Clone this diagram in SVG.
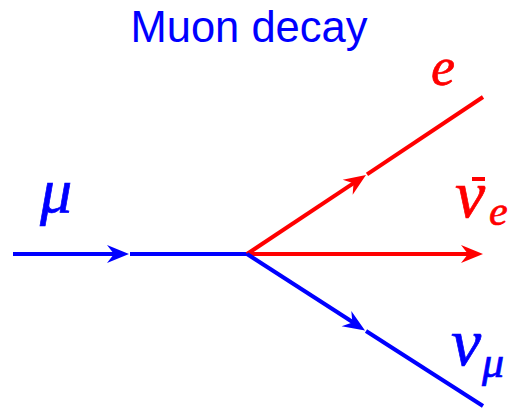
<svg xmlns="http://www.w3.org/2000/svg" xmlns:xlink="http://www.w3.org/1999/xlink" width="511" height="412" viewBox="0 0 511 412">
<style>
.ln{fill:none;stroke-width:4;stroke-linecap:butt}
.b{stroke:#0000ff}
.r{stroke:#ff0000}
.lab{font-family:"Liberation Serif","DejaVu Serif",serif;font-style:italic;stroke-width:0.7}
.title{font-family:"Liberation Sans",Arial,sans-serif;font-size:43.5px;fill:#0000ff}
</style>
<defs>
<path id="ah" d="M0,0 L-22,-9 L-15,0 L-22,9 Z"/>
</defs>
<rect width="511" height="412" fill="#ffffff"/>
<g id="title"><text class="title" x="249" y="42" text-anchor="middle">Muon decay</text></g>
<g id="connectors">
<path class="ln b" d="M13,254 H120"/>
<path class="ln b" d="M130,254 H247"/>
<use xlink:href="#ah" fill="#0000ff" transform="translate(129,254)"/>
<path class="ln r" d="M247,254 L360,178.8"/>
<path class="ln r" d="M367,174.4 L483,97"/>
<use xlink:href="#ah" fill="#ff0000" transform="translate(366,175) rotate(-33.6)"/>
<path class="ln r" d="M247,254 H472"/>
<use xlink:href="#ah" fill="#ff0000" transform="translate(483,254)"/>
<path class="ln b" d="M247,254 L358,325.5"/>
<path class="ln b" d="M366,331 L483,406"/>
<use xlink:href="#ah" fill="#0000ff" transform="translate(365,330.5) rotate(32.6)"/>
</g>
<g id="label-mu"><text class="lab" x="40" y="212" font-size="64" fill="#0000ff" stroke="#0000ff">μ</text></g>
<g id="label-e"><text class="lab" x="431" y="85" font-size="54" fill="#ff0000" stroke="#ff0000">e</text></g>
<g id="label-nuebar">
<text class="lab" x="455" y="217" font-size="68" fill="#ff0000" stroke="#ff0000">ν</text>
<rect x="472" y="177" width="13" height="4" fill="#ff0000"/>
<text class="lab" x="489" y="225" font-size="42" fill="#ff0000" stroke="#ff0000">e</text>
</g>
<g id="label-numu">
<text class="lab" x="451" y="365" font-size="68" fill="#0000ff" stroke="#0000ff">ν</text>
<text class="lab" x="482" y="377" font-size="44" fill="#0000ff" stroke="#0000ff">μ</text>
</g>
</svg>
